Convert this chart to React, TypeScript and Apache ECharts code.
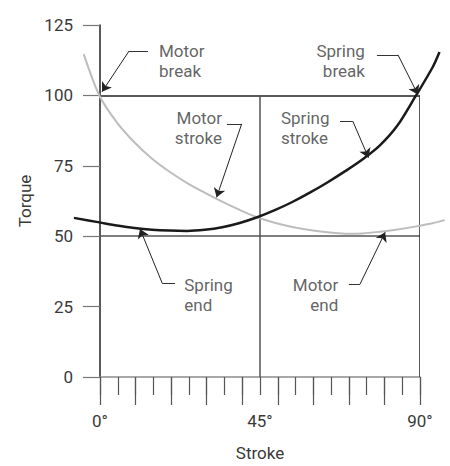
import React, { useEffect, useRef } from 'react';
import * as echarts from 'echarts';

// Curves (stroke in degrees, torque)
const motorX = [-4.5, 0, 5, 10, 15, 20, 25, 30, 35, 40, 45, 50, 55, 60, 65, 70, 75, 80, 85, 90, 95, 98.5];
const motorY = [114.7, 100, 90.5, 83.5, 77.8, 73.2, 69.2, 65.8, 62.6, 59.7, 57.1, 55.2, 53.7, 52.6, 51.8, 51.3, 51.4, 52, 52.8, 53.8, 55, 56.1];
const springX = [-7.3, 0, 5, 10, 15, 20, 25, 30, 35, 40, 45, 50, 55, 60, 65, 70, 75, 80, 85, 90, 95, 97];
const springY = [56.9, 55.3, 54.2, 53.3, 52.7, 52.4, 52.3, 52.7, 53.6, 55.1, 57.1, 59.6, 62.5, 65.8, 69.4, 73.3, 77.5, 82.5, 89.5, 99.5, 110, 115.5];

// Axis ticks
const yTickValues = [0, 25, 50, 75, 100, 125];
const xLabelValues = [0, 45, 90];

// Reference lines: [x1, y1, x2, y2]
const refLines = [
  [0, 100, 90, 100],
  [0, 50, 90, 50],
  [45, 100, 45, 0],
  [90, 100, 90, 0],
];
const refColors = ['#222', '#555', '#555', '#222'];

// Annotations
const annoText = ['Motor\nbreak', 'Spring\nbreak', 'Motor\nstroke', 'Spring\nstroke', 'Spring\nend', 'Motor\nend'];
const annoPos = [[16.6, 112.3], [74.5, 112.3], [34.3, 88.3], [50.9, 88.3], [23.7, 29.0], [67.0, 29.0]];
const annoAlign = ['left', 'right', 'right', 'left', 'left', 'right'];
// leader: horizontal start, elbow, arrow tip
const leaderStart = [[13.5, 115.8], [77.9, 114.4], [35.7, 89.9], [67.5, 90.85], [21.1, 33.3], [70.0, 32.9]];
const leaderElbow = [[8.2, 115.8], [83.8, 114.4], [39.85, 89.9], [71.1, 90.85], [17.5, 33.3], [73.1, 32.9]];
const leaderTip = [[0.56, 101.3], [89.4, 100.3], [32.8, 63.8], [75.5, 77.9], [11.25, 52.6], [80.2, 51.4]];

const FONT = 'Roboto';
const TXT = '#3a3a3a';

// plot geometry (pixels)
const PLOT_LEFT = 100;
const PLOT_RIGHT = 420;
const X_MIN = 0;
const X_MAX = 90;
const WIDE_MIN = -10;
const WIDE_MAX = 100;

export default function App() {
  const ref = useRef<HTMLDivElement>(null);
  useEffect(() => {
    if (!ref.current) return;
    const chart = echarts.init(ref.current, undefined, { renderer: 'svg' });
    const tickStyle = { color: '#555', width: 1.2 };
    const pxPerUnit = (PLOT_RIGHT - PLOT_LEFT) / (X_MAX - X_MIN);
    chart.setOption({
      animation: false,
      backgroundColor: '#fff',
      grid: [
        { left: PLOT_LEFT, right: 450 - PLOT_RIGHT, top: 25, bottom: 87 },
        {
          left: PLOT_LEFT + (WIDE_MIN - X_MIN) * pxPerUnit,
          width: (WIDE_MAX - WIDE_MIN) * pxPerUnit,
          top: 25, bottom: 87,
        },
      ],
      xAxis: [
        {
          type: 'value', min: X_MIN, max: X_MAX, interval: 5, gridIndex: 0,
          axisLine: { show: true, lineStyle: { color: '#8c8c8c', width: 1.5 } },
          axisTick: { show: true, length: 18, lineStyle: tickStyle },
          axisLabel: {
            formatter: (v: number) => (xLabelValues.includes(v) ? v + '°' : ''),
            margin: 35, fontSize: 17, color: TXT, fontFamily: FONT,
          },
          splitLine: { show: false },
          name: 'Stroke', nameLocation: 'middle', nameGap: 67,
          nameTextStyle: { fontSize: 17, color: TXT, fontFamily: FONT },
        },
        {
          type: 'value', min: X_MIN, max: X_MAX, interval: 10, position: 'bottom', gridIndex: 0,
          axisLine: { show: false },
          axisTick: { show: true, length: 28, lineStyle: tickStyle },
          axisLabel: { show: false },
          splitLine: { show: false },
        },
        {
          type: 'value', min: WIDE_MIN, max: WIDE_MAX, gridIndex: 1, show: false,
        },
      ],
      yAxis: [
        {
          type: 'value', min: yTickValues[0], max: yTickValues[yTickValues.length - 1], interval: 25, gridIndex: 0,
          axisLine: { show: true, lineStyle: { color: '#222', width: 1.5 } },
          axisTick: { show: true, length: 17, lineStyle: { color: '#777', width: 1.2 } },
          axisLabel: { margin: 27, fontSize: 17, color: TXT, fontFamily: FONT, padding: [0, 0, 10, 0] },
          splitLine: { show: false },
          name: 'Torque', nameLocation: 'middle', nameGap: 66,
          nameTextStyle: { fontSize: 17, color: TXT, fontFamily: FONT },
        },
        {
          type: 'value', min: yTickValues[0], max: yTickValues[yTickValues.length - 1], gridIndex: 1, show: false,
        },
      ],
      series: [
        {
          type: 'lines', coordinateSystem: 'cartesian2d', xAxisIndex: 0, yAxisIndex: 0, silent: true, z: 1,
          data: refLines.map((l, i) => ({
            coords: [[l[0], l[1]], [l[2], l[3]]],
            lineStyle: { color: refColors[i], width: 1.5, opacity: 1 },
          })),
          symbol: 'none',
        },
        {
          type: 'line', name: 'Motor', showSymbol: false, smooth: 0.3, z: 3,
          xAxisIndex: 2, yAxisIndex: 1,
          lineStyle: { color: '#bdbdbd', width: 2 },
          data: motorX.map((x, i) => [x, motorY[i]]),
        },
        {
          type: 'line', name: 'Spring', showSymbol: false, smooth: 0.3, z: 4,
          xAxisIndex: 2, yAxisIndex: 1,
          lineStyle: { color: '#1a1a1a', width: 2.5 },
          data: springX.map((x, i) => [x, springY[i]]),
        },
        {
          type: 'lines', coordinateSystem: 'cartesian2d', xAxisIndex: 0, yAxisIndex: 0, silent: true, z: 5,
          symbol: 'none',
          lineStyle: { color: '#333', width: 1, opacity: 1 },
          data: leaderStart.map((p, i) => ({ coords: [p, leaderElbow[i]] })),
        },
        {
          type: 'lines', coordinateSystem: 'cartesian2d', xAxisIndex: 0, yAxisIndex: 0, silent: true, z: 5,
          symbol: ['none', 'arrow'], symbolSize: [6, 9],
          lineStyle: { color: '#222', width: 1, opacity: 1 },
          data: leaderElbow.map((p, i) => ({ coords: [p, leaderTip[i]] })),
        },
        {
          type: 'scatter', symbolSize: 0, silent: true, z: 6, xAxisIndex: 0, yAxisIndex: 0,
          data: annoPos.map((p, i) => ({
            value: p,
            label: {
              show: true, position: 'inside', formatter: annoText[i],
              align: annoAlign[i], verticalAlign: 'middle',
              fontSize: 17, lineHeight: 20, color: TXT, fontFamily: FONT,
            },
          })),
        },
      ],
    });
    return () => chart.dispose();
  }, []);
  return <div ref={ref} style={{ position: 'fixed', left: 0, top: 0, width: 450, height: 466 }} />;
}
